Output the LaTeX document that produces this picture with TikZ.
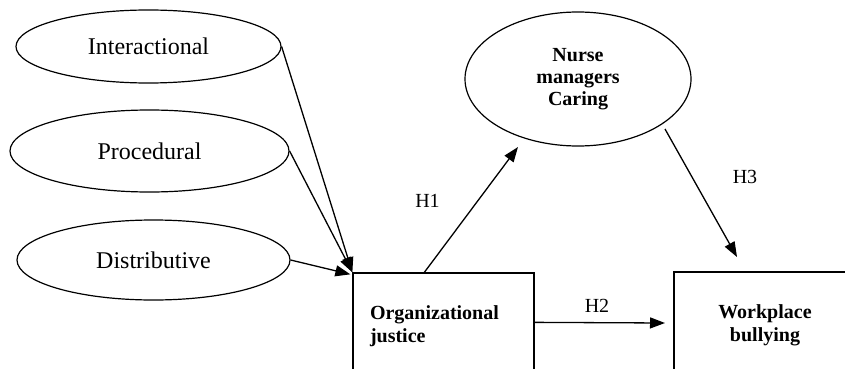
\documentclass[tikz,border=0pt]{standalone}
\usepackage{fontspec}
\setmainfont{Liberation Serif}
\usetikzlibrary{shapes.geometric,arrows.meta,calc}
\tikzset{
  oval/.style={draw, ellipse, line width=1.2pt, inner sep=0pt, font=\fontsize{24}{27}\selectfont},
  boxnode/.style={draw, rectangle, line width=1.3pt, font=\fontsize{20}{23}\selectfont\bfseries},
  conn/.style={line width=1.3pt, -{Triangle[length=15pt,width=11pt]}},
  hlab/.style={font=\fontsize{20}{23}\selectfont, inner sep=0pt}
}
\begin{document}
\begin{tikzpicture}[x=1pt,y=-1pt]
\useasboundingbox (0,0) rectangle (845,369);
\clip (0,0) rectangle (845,369);
\fill[white] (0,0) rectangle (845,369);
\node[oval, minimum width=265pt, minimum height=73pt] (int) at (148.5,46.5) {Interactional};
\node[oval, minimum width=279pt, minimum height=82pt] (pro) at (149.5,151) {Procedural};
\node[oval, minimum width=273pt, minimum height=80pt] (dis) at (153.5,260) {Distributive};
\node[oval, minimum width=226pt, minimum height=134pt, font=\fontsize{20}{22}\selectfont\bfseries] (nur) at (578,79) {\raisebox{-4pt}{\renewcommand{\arraystretch}{1}\setlength{\tabcolsep}{0pt}\begin{tabular}{c}Nurse\\managers\\Caring\end{tabular}}};
\node[boxnode, minimum height=106pt, text width=147pt, inner xsep=17pt, align=left] (org) at (443.5,326) {Organizational\\justice};
\node[boxnode, minimum height=106pt, minimum width=182pt, align=center] (wpb) at (765,325) {Workplace\\bullying};
\coordinate (h1s) at ($(org.north west)+(72,0)$);
\coordinate (h1e) at (518,147);
\coordinate (h3s) at (665,129);
\coordinate (h3e) at (737,257);
\coordinate (h2e) at (665,323);
\coordinate (h2s) at ($(org.north east)+(0,50)$);
\draw[conn] (int.east) -- (org.north west);
\draw[conn] (pro.east) -- (org.north west);
\draw[conn] (dis.east) -- ($(org.north west)+(-2,2)$);
\draw[conn] (h1s) -- (h1e);
\draw[conn] (h3s) -- (h3e);
\draw[conn] (h2s) -- (h2e);
\node[hlab] (l1) at (427.5,201) {H1};
\node[hlab] (l2) at (597,306) {H2};
\node[hlab] (l3) at (745,177) {H3};
\end{tikzpicture}
\end{document}
